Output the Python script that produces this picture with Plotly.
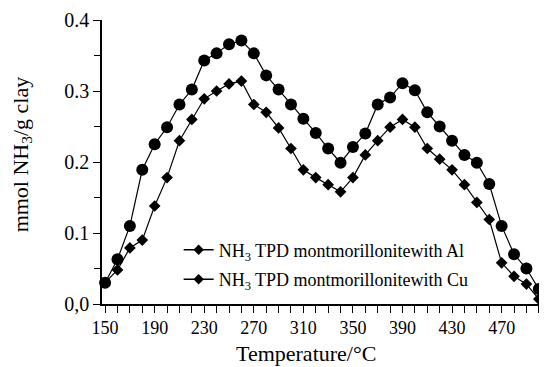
import plotly.graph_objects as go

temperature = [150, 160, 170, 180, 190, 200, 210, 220, 230, 240, 250, 260,
               270, 280, 290, 300, 310, 320, 330, 340, 350, 360, 370, 380,
               390, 400, 410, 420, 430, 440, 450, 460, 470, 480, 490, 500]

al_values = [0.030, 0.048, 0.079, 0.090, 0.138, 0.178, 0.230, 0.260, 0.289, 0.300, 0.310, 0.314,
             0.281, 0.270, 0.248, 0.219, 0.189, 0.178, 0.168, 0.158, 0.178, 0.210, 0.230, 0.249,
             0.260, 0.249, 0.219, 0.204, 0.189, 0.168, 0.143, 0.119, 0.058, 0.039, 0.028, 0.007]

cu_values = [0.030, 0.063, 0.110, 0.189, 0.225, 0.249, 0.281, 0.302, 0.343, 0.353, 0.366, 0.371,
             0.353, 0.322, 0.302, 0.281, 0.261, 0.241, 0.219, 0.199, 0.221, 0.240, 0.281, 0.291,
             0.311, 0.301, 0.270, 0.250, 0.230, 0.210, 0.199, 0.169, 0.110, 0.070, 0.050, 0.021]

x_tick_vals = [150, 190, 230, 270, 310, 350, 390, 430, 470]
x_tick_text = ["150", "190", "230", "270", "310", "350", "390", "430", "470"]
y_tick_vals = [0.0, 0.1, 0.2, 0.3, 0.4]
y_tick_text = ["0,0", "0.1", "0.2", "0.3", "0.4"]

legend_names = ["NH<sub>3</sub> TPD montmorillonitewith Al",
                "NH<sub>3</sub> TPD montmorillonitewith Cu"]

FONT = "Liberation Serif"

fig = go.Figure()

fig.add_trace(go.Scatter(
    x=temperature, y=al_values, mode="lines+markers",
    line=dict(color="black", width=1.2),
    marker=dict(symbol="diamond", size=9, color="black"),
    showlegend=False, cliponaxis=False))

fig.add_trace(go.Scatter(
    x=temperature, y=cu_values, mode="lines+markers",
    line=dict(color="black", width=1.2),
    marker=dict(symbol="circle", size=12, color="black"),
    showlegend=False, cliponaxis=False))

for i, name in enumerate(legend_names):
    fig.add_trace(go.Scatter(
        x=[None], y=[None], mode="lines+markers", name=name,
        legendgroup="g%d" % i,
        line=dict(color="black", width=1.5),
        marker=dict(symbol="diamond", size=8, color="black")))

axis_common = dict(
    showline=True, linecolor="black", linewidth=1.5,
    showgrid=False, zeroline=False,
    ticks="outside", tickcolor="black", tickwidth=1.3, ticklen=7,
    tickfont=dict(family=FONT, size=18, color="black"),
)

fig.update_xaxes(
    range=[147.5, 505], tickmode="array",
    tickvals=x_tick_vals, ticktext=x_tick_text,
    minor=dict(ticks="outside", dtick=10, tick0=150, ticklen=7,
               tickcolor="black", tickwidth=1.3),
    **axis_common)

fig.update_yaxes(
    range=[0, 0.4], tickmode="array",
    tickvals=y_tick_vals, ticktext=y_tick_text,
    minor=dict(ticks="outside", dtick=0.05, tick0=0, ticklen=6,
               tickcolor="black", tickwidth=1.3),
    **{**axis_common, "tickfont": dict(family=FONT, size=20, color="black")})

# page body has an 8px margin, so the figure is placed 8px right/down
fig.update_layout(
    width=539, height=359,
    margin=dict(l=94, r=1.5, t=12, b=62.5),
    paper_bgcolor="white", plot_bgcolor="white",
    font=dict(family=FONT, color="black"),
    showlegend=True,
    legend=dict(
        x=0.173, y=0.255, xanchor="left", yanchor="top",
        bgcolor="rgba(0,0,0,0)", borderwidth=0,
        font=dict(family=FONT, size=18, color="black"),
        traceorder="grouped", tracegroupgap=3,
        itemwidth=30),
    annotations=[
        dict(text="Temperature/°C", xref="paper", yref="paper",
             x=0.461, y=-0.176, xanchor="center", yanchor="middle",
             showarrow=False, font=dict(family=FONT, size=22, color="black")),
        dict(text="mmol NH<sub>3</sub>/g clay", xref="paper", yref="paper",
             x=-0.1815, y=0.5255, xanchor="center", yanchor="middle",
             textangle=-90, showarrow=False,
             font=dict(family=FONT, size=22, color="black")),
    ],
)

fig.write_html("out.html")
